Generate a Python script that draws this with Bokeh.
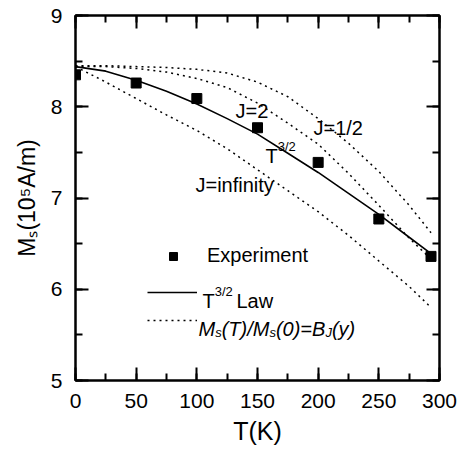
from bokeh.plotting import figure
from bokeh.models import (Range1d, LinearAxis, SingleIntervalTicker, Label,
                          Legend, LegendItem, CustomLabelingPolicy)
from bokeh.embed import file_html
from bokeh.resources import INLINE

FONT = "Liberation Sans"

# measured saturation magnetization
T_exp = [0, 50, 100, 150, 200, 250, 293]
M_exp = [8.35, 8.26, 8.09, 7.77, 7.39, 6.77, 6.36]

# model curves, sampled every 25 K
T_curve = [0, 25, 50, 75, 100, 125, 150, 175, 200, 225, 250, 275, 293]
M_t32 = [8.44, 8.39, 8.29, 8.17, 8.03, 7.87, 7.70, 7.49, 7.28, 7.05, 6.82, 6.57, 6.39]
M_j_half = [8.45, 8.45, 8.44, 8.43, 8.41, 8.37, 8.27, 8.11, 7.87, 7.60, 7.29, 6.92, 6.62]
M_j_two = [8.44, 8.44, 8.42, 8.38, 8.31, 8.21, 8.04, 7.82, 7.59, 7.27, 6.92, 6.56, 6.33]
M_j_inf = [8.44, 8.27, 8.09, 7.91, 7.74, 7.54, 7.31, 7.08, 6.85, 6.59, 6.31, 6.03, 5.80]

x_ticks_interval = 50
y_ticks_interval = 1

W, H = 459, 453
L, R, TOP, B = 75, 20, 15, 73
X0, X1, Y0, Y1 = 0, 300, 5, 9

p = figure(width=W, height=H, output_backend="svg", toolbar_location=None,
           x_range=Range1d(X0, X1), y_range=Range1d(Y0, Y1),
           x_axis_type=None, y_axis_type=None,
           min_border_left=L, min_border_right=R,
           min_border_top=TOP, min_border_bottom=B)
p.outline_line_color = "black"
p.outline_line_width = 2
p.background_fill_color = "white"
p.border_fill_color = "white"


def make_axis(ticker, show_labels):
    ax = LinearAxis(ticker=ticker)
    ax.axis_line_width = 2
    ax.major_tick_line_width = 2
    ax.minor_tick_line_width = 2
    ax.major_tick_in = 13
    ax.major_tick_out = 0
    ax.minor_tick_in = 7
    ax.minor_tick_out = 0
    ax.major_label_text_font = FONT
    ax.major_label_text_color = "black"
    ax.axis_label_text_font = FONT
    ax.axis_label_text_font_style = "normal"
    ax.axis_label_text_color = "black"
    if show_labels:
        ax.major_label_text_font_size = "21px"
        ax.major_label_standoff = 13
    else:
        # mirrored axis: ticks only, no tick labels
        ax.major_label_policy = CustomLabelingPolicy(code="return new Set()")
        ax.major_label_text_font_size = "1px"
        ax.major_label_standoff = 0
    return ax


xt = SingleIntervalTicker(interval=x_ticks_interval, num_minor_ticks=2)
yt = SingleIntervalTicker(interval=y_ticks_interval, num_minor_ticks=2)

x_axis = make_axis(xt, True)
x_axis.axis_label = "T(K)"
x_axis.axis_label_text_font_size = "25px"
x_axis.axis_label_standoff = 6

y_axis = make_axis(yt, True)
y_axis.axis_label = "M\u209b(10\u2075A/m)"
y_axis.axis_label_text_font_size = "23px"
y_axis.axis_label_standoff = 8

p.add_layout(x_axis, "below")
p.add_layout(y_axis, "left")
p.add_layout(make_axis(xt, False), "above")
p.add_layout(make_axis(yt, False), "right")

# curves
r_j_half = p.line(T_curve, M_j_half, line_color="black", line_width=1.5, line_dash="2 4")
r_j_two = p.line(T_curve, M_j_two, line_color="black", line_width=1.5, line_dash="2 4")
r_j_inf = p.line(T_curve, M_j_inf, line_color="black", line_width=1.5, line_dash="2 4")
r_t32 = p.line(T_curve, M_t32, line_color="black", line_width=1.6)
r_exp = p.scatter(T_exp, M_exp, marker="square", size=10, color="black")


# legend rows
def legend_row(label, renderer, loc):
    lg = Legend(items=[LegendItem(label=label, renderers=[renderer])],
                location=loc, padding=0, margin=0, spacing=0,
                glyph_width=50, glyph_height=20, label_standoff=9,
                label_text_font=FONT, label_text_font_size="20px",
                label_text_color="black",
                border_line_color=None, background_fill_alpha=0)
    p.add_layout(lg)


legend_row("Experiment", r_exp, (73, 113))
legend_row(" ", r_t32, (72, 78))
legend_row(" ", r_j_inf, (72, 50))

# text placement helpers (pixel positions on the canvas -> data coordinates)
PX_T = (X1 - X0) / (W - L - R)
PX_M = (Y1 - Y0) / (H - TOP - B)


def dx(px):
    return X0 + (px - L) * PX_T


def dy(py):
    return Y1 - (py - TOP) * PX_M


EM = {"M": .833, "s": .5, "(": .333, ")": .333, "T": .611, "/": .278,
      "0": .556, "1": .556, "2": .556, "3": .556, "5": .556, "=": .584,
      "B": .667, "J": .5, "y": .5, "A": .667, "m": .833, " ": .278,
      "L": .556, "a": .556, "w": .722, "K": .667}


def width(text, size):
    return sum(EM.get(c, .556) for c in text) * size


def put(px, py, text, size, italic=False):
    p.add_layout(Label(x=dx(px), y=dy(py), text=text, text_font=FONT,
                       text_font_size=f"{size}px", text_color="black",
                       text_font_style="italic" if italic else "normal",
                       text_baseline="alphabetic", text_align="left"))


def run(px, py, pieces, italic=False):
    for text, size, shift in pieces:
        put(px, py + shift, text, size, italic)
        px += width(text, size)


# legend texts
run(202, 300, [("T", 20, 0), ("3/2", 13, -9)])
put(236, 300, "Law", 20)
run(198, 328, [("M", 20, 0), ("s", 13, 4), ("(T)/M", 20, 0), ("s", 13, 4),
               ("(0)=B", 20, 0), ("J", 13, 4), ("(y)", 20, 0)], italic=True)

# curve annotations
put(235, 110, "J=2", 20)
put(313, 127, "J=1/2", 20)
run(265, 155, [("T", 20, 0), ("3/2", 13, -9)])
put(195, 184, "J=infinity", 20)

open("out.html", "w").write(file_html(p, INLINE))
